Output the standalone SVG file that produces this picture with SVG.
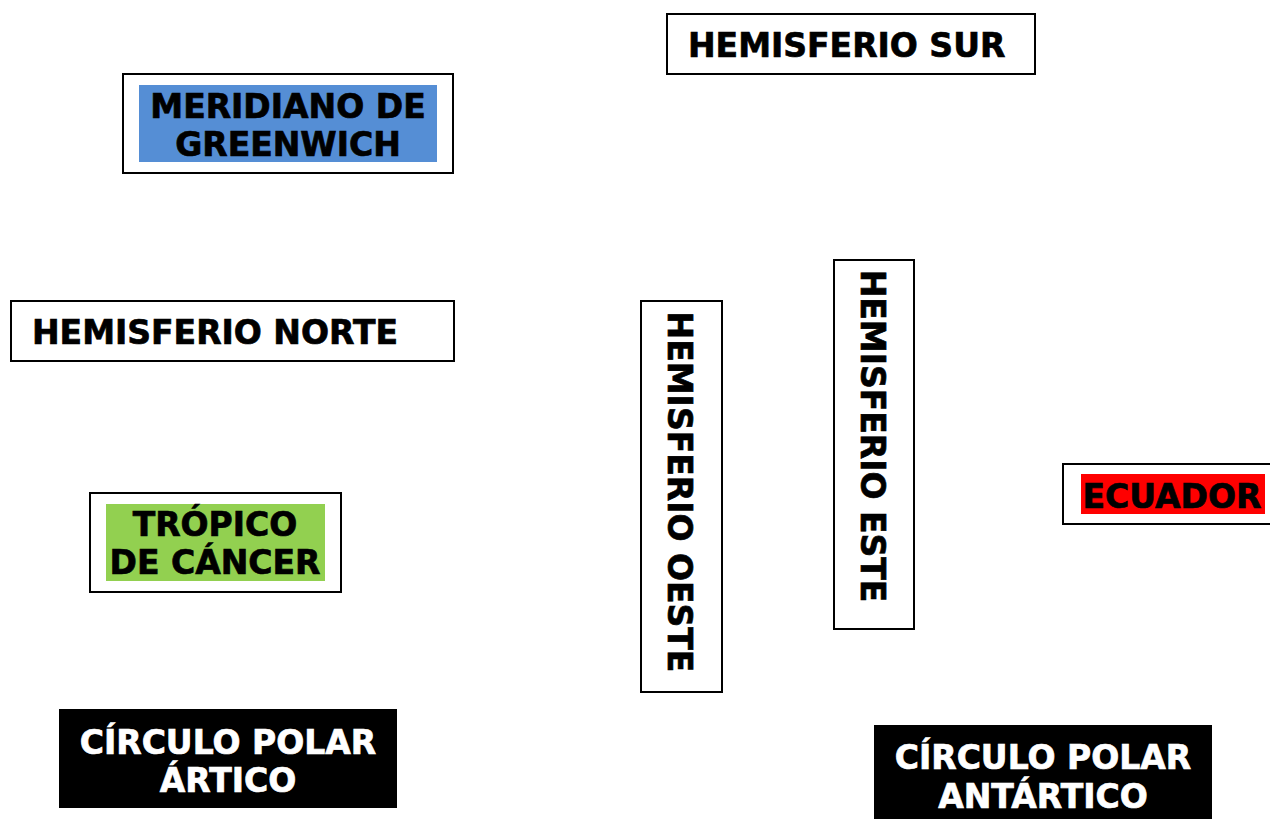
<svg xmlns="http://www.w3.org/2000/svg" width="1270" height="819" viewBox="0 0 1270 819">
<style>
.box{fill:#fff;stroke:#000;stroke-width:2}
.t{font-family:"DejaVu Sans","Verdana",sans-serif;font-weight:bold;font-size:33px;fill:#000;stroke:#000;stroke-width:0.7}
.w{fill:#fff;stroke:#fff}
.c{text-anchor:middle}
</style>
<rect width="1270" height="819" fill="#fff"/>
<g id="hemisferio-sur">
<rect class="box" x="667" y="14" width="368" height="60"/>
<text class="t" x="688" y="57">HEMISFERIO SUR</text>
</g>
<g id="meridiano-greenwich">
<rect class="box" x="123" y="74" width="330" height="99"/>
<rect x="139" y="85" width="298" height="77" fill="#558ED5"/>
<text class="t c" x="288" y="118">MERIDIANO DE</text>
<text class="t c" x="288" y="156">GREENWICH</text>
</g>
<g id="hemisferio-norte">
<rect class="box" x="11" y="301" width="443" height="60"/>
<text class="t" x="32" y="344">HEMISFERIO NORTE</text>
</g>
<g id="tropico-cancer">
<rect class="box" x="90" y="493" width="251" height="99"/>
<rect x="106" y="504" width="219" height="77" fill="#92D050"/>
<text class="t c" x="215" y="536">TRÓPICO</text>
<text class="t c" x="215" y="574">DE CÁNCER</text>
</g>
<g id="hemisferio-oeste">
<rect class="box" x="641" y="301" width="81" height="391"/>
<text class="t c" transform="translate(668,492) rotate(90)">HEMISFERIO OESTE</text>
</g>
<g id="hemisferio-este">
<rect class="box" x="834" y="260" width="80" height="369"/>
<text class="t c" transform="translate(861,436) rotate(90)">HEMISFERIO ESTE</text>
</g>
<g id="ecuador">
<rect class="box" x="1063" y="464" width="215" height="60"/>
<rect x="1081" y="474" width="184" height="40" fill="#FF0000"/>
<text class="t c" x="1172" y="508">ECUADOR</text>
</g>
<g id="circulo-polar-artico">
<rect x="59" y="709" width="338" height="99" fill="#000"/>
<text class="t c w" x="228" y="754">CÍRCULO POLAR</text>
<text class="t c w" x="228" y="792">ÁRTICO</text>
</g>
<g id="circulo-polar-antartico">
<rect x="874" y="725" width="338" height="100" fill="#000"/>
<text class="t c w" x="1043" y="769">CÍRCULO POLAR</text>
<text class="t c w" x="1043" y="808">ANTÁRTICO</text>
</g>
<g id="connectors"></g>
</svg>
